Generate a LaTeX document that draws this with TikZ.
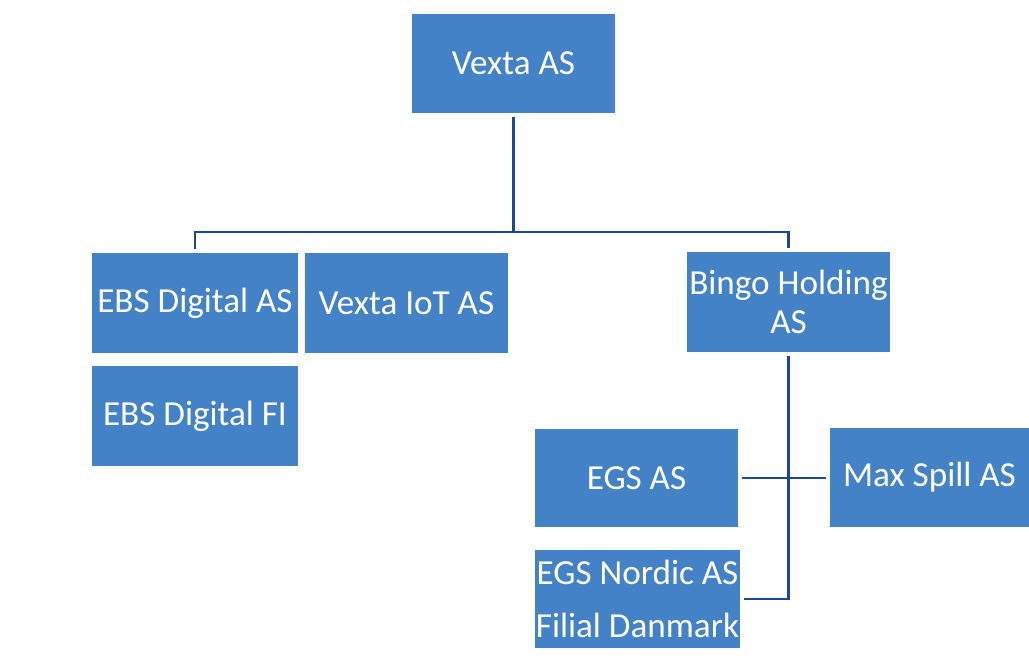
\documentclass[tikz,border=0pt]{standalone}
\usepackage{fontspec}
\setmainfont{Carlito}
\definecolor{boxblue}{RGB}{68,130,200}
\definecolor{lineblue}{RGB}{30,70,150}
\begin{document}
\begin{tikzpicture}[scale=1]

	\tikzstyle{company} = [rectangle, fill=boxblue, text=white, inner sep=0pt, outer sep=2.2pt, minimum height=2cm, align=center, font=\fontsize{20}{24}\selectfont]
	\tikzstyle{link} = [draw=lineblue, line width=1.5pt]

	\useasboundingbox (0,0) rectangle (20.58,-13.26);

%------------------------------------------------------------
	\node[company, minimum width=4.06cm, minimum height=1.98cm] (vexta) at (10.27,-1.27) {Vexta AS};

%------------------------------------------------------------

	\node[company, minimum width=4.12cm] (ebs_as) at (3.90,-6.06) {EBS Digital AS};
	\node[company, minimum width=4.06cm] (iot) at (8.13,-6.06) {Vexta IoT AS};
	\node[company, minimum width=4.06cm, font=\fontsize{20}{22}\selectfont] (bingo) at (15.77,-6.04) {Bingo Holding\\AS};

	\node[company, minimum width=4.12cm] (ebs_fi) at (3.90,-8.32) {EBS Digital FI};

%------------------------------------------------------------

	\node[company, minimum width=4.06cm, minimum height=1.96cm] (egs) at (12.73,-9.56) {EGS AS};
	\node[company, minimum width=3.98cm, minimum height=1.98cm] (maxspill) at (18.59,-9.55) {Max Spill AS};
	\node[company, minimum width=4.10cm, minimum height=1.96cm, font=\fontsize{20}{30}\selectfont] (egsn) at (12.75,-11.98) {EGS Nordic AS\\Filial Danmark};

%------------------------------------------------------------

	\coordinate (j0) at (10.27,-4.64);

	\draw[link] (vexta.south) -- (j0);
	\draw[link] (ebs_as.north) -- (ebs_as.north |- j0) -- (bingo.north |- j0) -- (bingo.north);

	\draw[link] (bingo.south) -- (bingo.south |- egsn.east) -- (egsn.east);
	\draw[link] (egs.east) -- (egs.east -| maxspill.west);

\end{tikzpicture}
\end{document}
